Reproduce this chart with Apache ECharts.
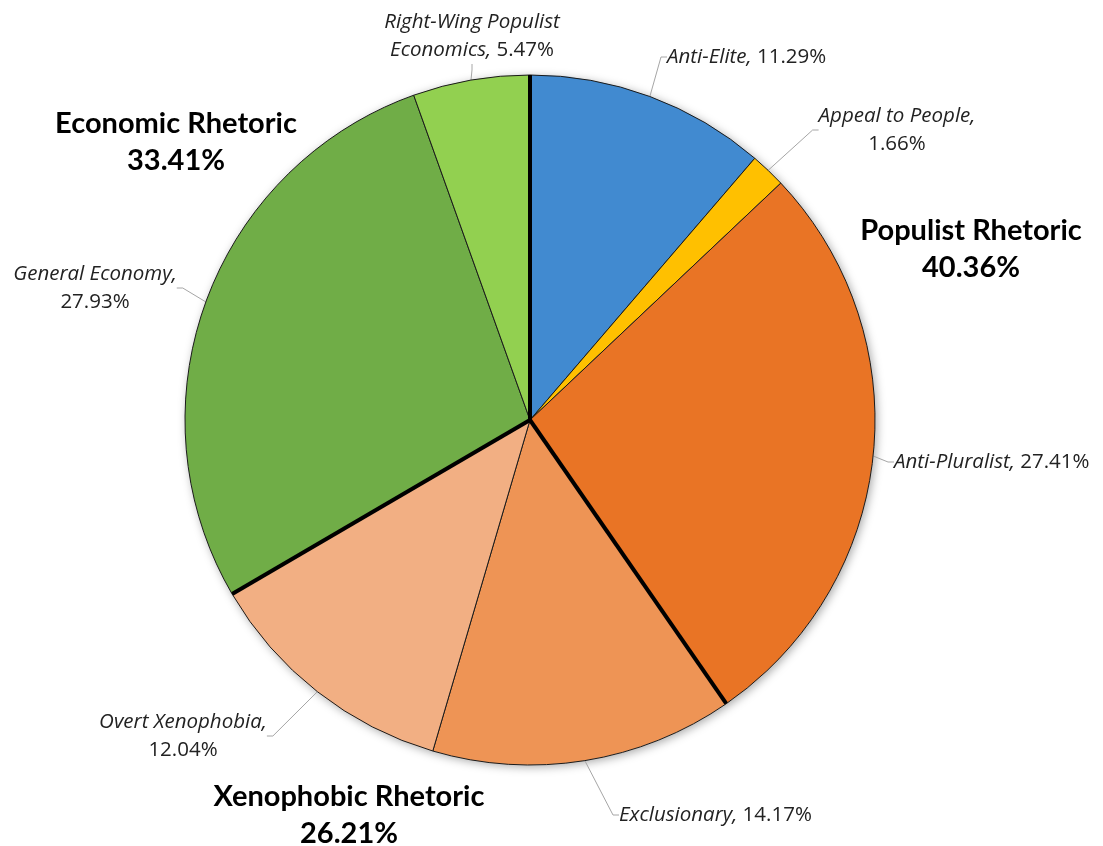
<!DOCTYPE html>
<html><head><meta charset="utf-8">
<script src="https://cdn.jsdelivr.net/npm/echarts@6/dist/echarts.min.js"></script>
<style>html,body{margin:0;padding:0;background:#fff}#c{width:1103px;height:846px}</style>
</head><body><div id="c"></div>
<script>
// ---- data ----
const categories = ['Anti-Elite', 'Appeal to People', 'Anti-Pluralist', 'Exclusionary', 'Overt Xenophobia', 'General Economy', 'Right-Wing Populist Economics'];
const values = [11.29, 1.66, 27.41, 14.17, 12.04, 27.93, 5.47];
const groups = ['Populist Rhetoric', 'Xenophobic Rhetoric', 'Economic Rhetoric'];
const groupValues = [40.36, 26.21, 33.41];

// ---- style / layout ----
const colors = ['#418AD0', '#FFC000', '#E97425', '#EE9455', '#F2AF83', '#70AD47', '#92D050'];
const CX = 530, CY = 420, R = 345;
const FONT = 'Open Sans';
const GFONT = 'Lato';
const FS = 20.5;
const LH = 28;
const labelPos = [
  {x: 667, y: 57, align: 'left'},
  {x: 897, y: 130, align: 'center'},
  {x: 894, y: 462, align: 'left'},
  {x: 619, y: 815, align: 'left'},
  {x: 183, y: 736, align: 'center'},
  {x: 95, y: 288, align: 'center'},
  {x: 472, y: 36, align: 'center'}
];
const wrapMode = ['none', 'afterName', 'none', 'none', 'afterName', 'afterName', 'insideName'];
const groupPos = [
  {x: 971, y: 249},
  {x: 349, y: 815},
  {x: 176, y: 142}
];

function fmtItem(p) {
  const name = p.name, v = p.value.toFixed(2) + '%';
  const m = wrapMode[p.dataIndex];
  if (m === 'afterName') return `{n|${name},}\n{v|${v}}`;
  if (m === 'insideName') {
    const i = name.lastIndexOf(' ');
    return `{n|${name.slice(0, i)}}\n{n|${name.slice(i + 1)},} {v|${v}}`;
  }
  return `{n|${name},} {v|${v}}`;
}

const gTotal = groupValues.reduce((a, b) => a + b, 0);
const boundaries = [0];
let acc = 0;
for (let i = 0; i < groupValues.length - 1; i++) { acc += groupValues[i]; boundaries.push(acc / gTotal * 100); }

const separatorSeries = boundaries.map(b => ({
  type: 'line', coordinateSystem: 'polar', z: 10, silent: true, symbol: 'none',
  data: [[0, b], [1, b]],
  lineStyle: {color: '#000', width: 4, cap: 'butt'}
}));

const chart = echarts.init(document.getElementById('c'), null, {renderer: 'canvas'});
chart.setOption({
  animation: false,
  backgroundColor: '#fff',
  polar: {center: [CX, CY], radius: R},
  angleAxis: {type: 'value', min: 0, max: 100, startAngle: 90, clockwise: true, show: false},
  radiusAxis: {type: 'value', min: 0, max: 1, show: false},
  series: [
    {
      type: 'pie', center: [CX, CY], radius: [0, R], silent: true, z: 0,
      data: [{value: 1, name: ''}],
      itemStyle: {color: '#fff', shadowBlur: 10, shadowColor: 'rgba(0,0,0,0.35)', shadowOffsetX: 2, shadowOffsetY: 2},
      label: {show: false}, labelLine: {show: false}
    },
    {
      type: 'pie', center: [CX, CY], radius: [0, R], startAngle: 90, clockwise: true, z: 2,
      silent: true,
      data: categories.map((c, i) => ({name: c, value: values[i], itemStyle: {color: colors[i]}})),
      itemStyle: {borderColor: '#1a1a1a', borderWidth: 1},
      label: {
        show: true, position: 'outside', formatter: fmtItem, color: '#222', overflow: 'none',
        fontFamily: FONT, fontSize: FS, lineHeight: LH,
        rich: {
          n: {fontStyle: 'italic', fontFamily: FONT, fontSize: FS, color: '#222', lineHeight: LH},
          v: {fontFamily: FONT, fontSize: FS, color: '#222', lineHeight: LH}
        }
      },
      labelLine: {show: true, length: 10, length2: 6, lineStyle: {color: '#A6A6A6', width: 1}},
      labelLayout: p => ({x: labelPos[p.dataIndex].x, y: labelPos[p.dataIndex].y, align: labelPos[p.dataIndex].align, verticalAlign: 'middle'})
    },
    {
      type: 'pie', center: [CX, CY], radius: [0, R], startAngle: 90, clockwise: true, z: 5,
      silent: true,
      data: groups.map((g, i) => ({name: g, value: groupValues[i]})),
      itemStyle: {color: 'rgba(0,0,0,0)', borderWidth: 0},
      label: {
        show: true, position: 'outside', color: '#000', fontFamily: GFONT, fontWeight: 'bold',
        fontSize: 29, lineHeight: 37, align: 'center', overflow: 'none',
        formatter: p => `${p.name}\n${p.value.toFixed(2)}%`
      },
      labelLine: {show: false},
      labelLayout: p => ({x: groupPos[p.dataIndex].x, y: groupPos[p.dataIndex].y, align: 'center', verticalAlign: 'middle'})
    },
    ...separatorSeries
  ]
});
</script>
</body></html>
